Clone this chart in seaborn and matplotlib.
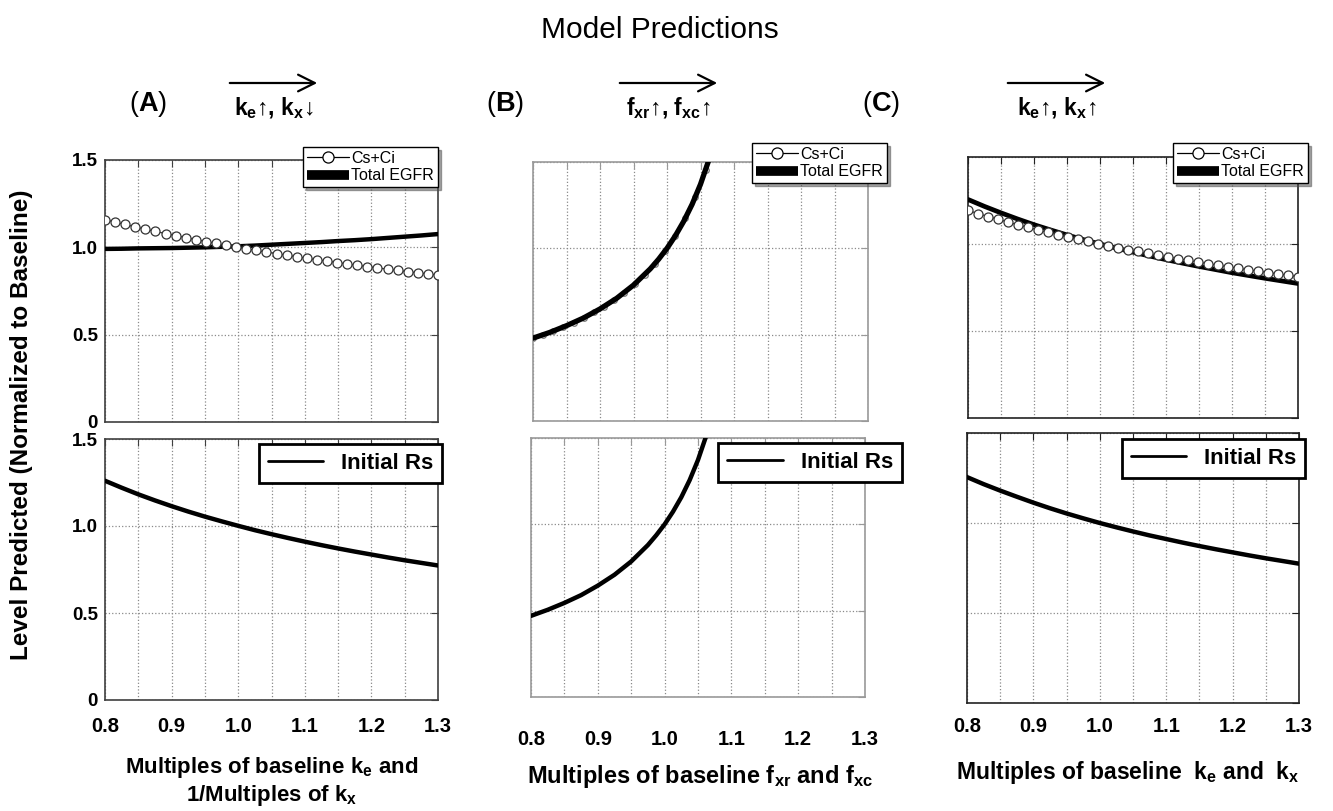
import numpy as np
import pandas as pd
import matplotlib
matplotlib.use("Agg")
import matplotlib.pyplot as plt
import seaborn as sns
from matplotlib.lines import Line2D
from matplotlib.patches import FancyArrowPatch
from matplotlib import font_manager

# x grid for the smooth curves and for the open-circle series
mult = [0.8, 0.825, 0.85, 0.875, 0.9, 0.925, 0.95, 0.975, 1.0, 1.025, 1.05,
        1.075, 1.1, 1.125, 1.15, 1.175, 1.2, 1.225, 1.25, 1.275, 1.3]
mult_b = [0.8, 0.825, 0.85, 0.875, 0.9, 0.925, 0.95, 0.975, 0.9875, 1.0,
          1.0125, 1.025, 1.0375, 1.05, 1.0625, 1.075]
mult_marks = np.linspace(0.8, 1.3, 34)

# (A) ke up, kx down
a_cs = [1.159, 1.144, 1.131, 1.117, 1.104, 1.091, 1.079, 1.067, 1.056, 1.044,
        1.033, 1.023, 1.012, 1.002, 0.992, 0.982, 0.973, 0.964, 0.955, 0.946,
        0.937, 0.929, 0.921, 0.913, 0.905, 0.897, 0.890, 0.882, 0.875, 0.868,
        0.861, 0.854, 0.848, 0.841]
a_egfr = [0.991, 0.992, 0.994, 0.995, 0.996, 0.998, 1.000, 1.003, 1.006, 1.010,
          1.015, 1.020, 1.025, 1.030, 1.036, 1.041, 1.047, 1.054, 1.061, 1.068, 1.076]
a_rs = [1.260, 1.220, 1.182, 1.147, 1.114, 1.083, 1.054, 1.027, 1.001, 0.976,
        0.953, 0.931, 0.910, 0.890, 0.871, 0.853, 0.836, 0.819, 0.803, 0.788, 0.773]

# (B) fxr up, fxc up
b_cs = [0.480, 0.500, 0.521, 0.544, 0.570, 0.598, 0.629, 0.663, 0.701, 0.744,
        0.792, 0.847, 0.910, 0.984, 1.070, 1.174, 1.298, 1.454, 1.650]
b_egfr = [0.480, 0.513, 0.552, 0.596, 0.649, 0.711, 0.787, 0.881, 0.937, 1.000,
          1.073, 1.157, 1.255, 1.371, 1.512, 1.684]
b_rs = [0.470, 0.505, 0.545, 0.590, 0.645, 0.708, 0.785, 0.880, 0.937, 1.000,
        1.073, 1.157, 1.256, 1.373, 1.515, 1.690]

# (C) ke up, kx up
c_cs = [1.193, 1.175, 1.158, 1.142, 1.126, 1.110, 1.096, 1.081, 1.067, 1.053,
        1.040, 1.027, 1.015, 1.002, 0.990, 0.979, 0.968, 0.957, 0.946, 0.936,
        0.925, 0.916, 0.906, 0.896, 0.887, 0.878, 0.869, 0.861, 0.852, 0.844,
        0.836, 0.828, 0.820, 0.813]
c_egfr = [1.256, 1.216, 1.179, 1.144, 1.111, 1.081, 1.052, 1.025, 1.000, 0.976,
          0.953, 0.931, 0.910, 0.890, 0.871, 0.853, 0.835, 0.819, 0.803, 0.788, 0.773]
c_rs = [1.255, 1.216, 1.180, 1.146, 1.113, 1.082, 1.053, 1.026, 1.000, 0.976,
        0.953, 0.931, 0.911, 0.891, 0.872, 0.854, 0.837, 0.820, 0.804, 0.789, 0.774]

xtick_pos = np.round(np.arange(0.8, 1.3001, 0.05), 2)
xtick_lab = ['0.8', '', '0.9', '', '1.0', '', '1.1', '', '1.2', '', '1.3']
ytick_pos = [0, 0.5, 1.0, 1.5]
ytick_lab = ['0', '0.5', '1.0', '1.5']

sns.set_style("white")
plt.rcParams['font.family'] = ['Liberation Sans', 'DejaVu Sans']
plt.rcParams['text.color'] = 'black'
plt.rcParams['axes.labelcolor'] = 'black'
plt.rcParams['mathtext.fontset'] = 'custom'
plt.rcParams['mathtext.rm'] = 'Liberation Sans'
plt.rcParams['mathtext.bf'] = 'Liberation Sans:bold'
plt.rcParams['mathtext.it'] = 'Liberation Sans:italic'

names = {f.name for f in font_manager.fontManager.ttflist}
narrow = 'Liberation Sans Narrow' if 'Liberation Sans Narrow' in names else 'Liberation Sans'
leg_size = 13 if narrow == 'Liberation Sans Narrow' else 11.5

W, H = 1333, 811
fig = plt.figure(figsize=(W / 100, H / 100), dpi=100)


def add_ax(l, t, r, b):
    return fig.add_axes([l / W, 1 - b / H, (r - l) / W, (b - t) / H])


def style(ax, edge, show_x, show_y, xpad=12):
    ax.set_xlim(0.8, 1.3)
    ax.set_ylim(0, 1.5)
    ax.set_xticks(xtick_pos)
    ax.set_xticklabels(xtick_lab if show_x else [])
    ax.set_yticks(ytick_pos)
    ax.set_yticklabels(ytick_lab if show_y else [])
    ax.grid(True, ls=':', color='#8a8a8a', lw=0.9)
    ax.tick_params(direction='in', length=5, top=True, right=True, color=edge,
                   labelcolor='black', pad=5)
    ax.tick_params(axis='x', labelsize=14.5, pad=xpad)
    ax.tick_params(axis='y', labelsize=13.5)
    for lab in ax.get_xticklabels() + ax.get_yticklabels():
        lab.set_fontweight('bold')
    for s in ax.spines.values():
        s.set_color(edge)
        s.set_linewidth(1.2)
    ax.set_xlabel('')
    ax.set_ylabel('')


def top_legend(ax, anchor):
    h1 = Line2D([], [], color='black', lw=0.9, marker='o', ms=8,
                mfc='white', mec='black', mew=0.9)
    h2 = Line2D([], [], color='black', lw=7, solid_capstyle='butt')
    leg = ax.legend([h1, h2], ['Cs+Ci', 'Total EGFR'], loc='upper right',
                    bbox_to_anchor=anchor, prop={'family': narrow, 'size': leg_size},
                    fancybox=False, shadow=True, edgecolor='black', framealpha=1,
                    borderpad=0.25, labelspacing=0.15, handlelength=2.6,
                    handletextpad=0.15, borderaxespad=0)
    leg.get_frame().set_linewidth(1.0)
    leg.set_zorder(10)


def bottom_legend(ax, anchor):
    h = Line2D([], [], color='black', lw=2)
    leg = ax.legend([h], ['Initial Rs'], loc='upper right', bbox_to_anchor=anchor,
                    prop={'weight': 'bold', 'size': 16}, fancybox=False,
                    edgecolor='black', framealpha=1, borderpad=0.4,
                    handlelength=2.5, handletextpad=0.8, borderaxespad=0)
    leg.get_frame().set_linewidth(2)
    leg.set_zorder(10)


def marks(ax, x, y, z, ms=6.5, c='#333333'):
    sns.lineplot(x=x, y=y, ax=ax, color=c, lw=0.9, marker='o', ms=ms,
                 markerfacecolor='white', markeredgecolor=c,
                 markeredgewidth=0.9, zorder=z, estimator=None, sort=False)


# panel A
ax = add_ax(105, 160, 438, 422)
sns.lineplot(x=mult, y=a_egfr, ax=ax, color='black', lw=3.2, zorder=3)
marks(ax, mult_marks, a_cs, 4)
style(ax, '#404040', False, True)
top_legend(ax, (1.0, 1.05))

ax = add_ax(105, 439, 438, 700)
sns.lineplot(x=mult, y=a_rs, ax=ax, color='black', lw=3.2, zorder=3)
style(ax, '#404040', True, True)
bottom_legend(ax, (1.012, 0.981))

# panel B
ax = add_ax(533, 162, 868, 421)
marks(ax, mult_marks[:len(b_cs)], b_cs, 2, ms=4, c='#777777')
sns.lineplot(x=mult_b, y=b_egfr, ax=ax, color='black', lw=3.8, zorder=3)
style(ax, '#999999', False, False)
top_legend(ax, (1.057, 1.073))

ax = add_ax(531, 438, 865, 697)
sns.lineplot(x=mult_b, y=b_rs, ax=ax, color='black', lw=3.2, zorder=3)
style(ax, '#999999', True, False, xpad=24)
bottom_legend(ax, (1.11, 0.98))

# panel C
ax = add_ax(968, 157, 1298, 418)
sns.lineplot(x=mult, y=c_egfr, ax=ax, color='black', lw=3.4, zorder=3)
marks(ax, mult_marks, c_cs, 4)
style(ax, '#222222', False, False)
top_legend(ax, (1.03, 1.054))

ax = add_ax(967, 433, 1299, 703)
sns.lineplot(x=mult, y=c_rs, ax=ax, color='black', lw=3.2, zorder=3)
style(ax, '#222222', True, False, xpad=10)
bottom_legend(ax, (1.018, 0.978))


def ftext(x, y, s, **kw):
    fig.text(x / W, 1 - y / H, s, ha='center', va='center', **kw)


ftext(660, 30, 'Model Predictions', fontsize=21.5)
ftext(22, 425, 'Level Predicted (Normalized to Baseline)', rotation=90,
      fontsize=17.5, fontweight='bold')

for hx, lab in [(148, r'($\mathbf{A}$)'), (505, r'($\mathbf{B}$)'), (881, r'($\mathbf{C}$)')]:
    ftext(hx, 104, lab, fontsize=19.5)

heads = [(227, 320, r'$\mathbf{k_e}$↑, $\mathbf{k_x}$↓'),
         (617, 720, r'$\mathbf{f_{xr}}$↑, $\mathbf{f_{xc}}$↑'),
         (1005, 1108, r'$\mathbf{k_e}$↑, $\mathbf{k_x}$↑')]
for x0, x1, lab in heads:
    fig.add_artist(FancyArrowPatch((x0 / W, 1 - 83 / H), (x1 / W, 1 - 83 / H),
                                   transform=fig.transFigure, arrowstyle='->',
                                   mutation_scale=30, lw=1.6, color='black'))
    ftext((x0 + x1) / 2, 108, lab, fontsize=16.5, fontweight='bold')

ftext(272, 767, 'Multiples of baseline $\\mathbf{k_e}$ and',
      fontsize=16, fontweight='bold')
ftext(272, 795, '1/Multiples of $\\mathbf{k_x}$',
      fontsize=16, fontweight='bold')
ftext(700, 776, 'Multiples of baseline $\\mathbf{f_{xr}}$ and $\\mathbf{f_{xc}}$',
      fontsize=17, fontweight='bold')
ftext(1128, 772, 'Multiples of baseline  $\\mathbf{k_e}$ and  $\\mathbf{k_x}$',
      fontsize=16.5, fontweight='bold')

fig.savefig('out.png', dpi=100)
